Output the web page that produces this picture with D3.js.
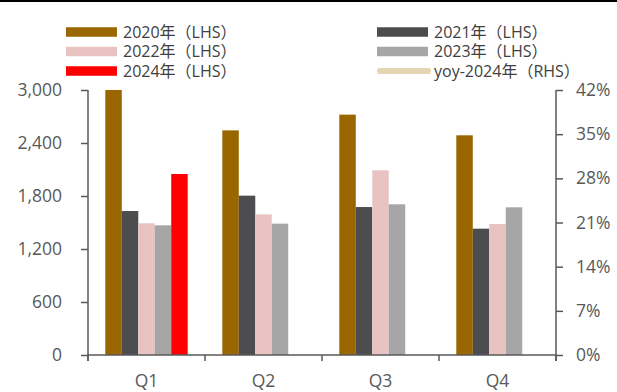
<!DOCTYPE html>
<html>
<head>
<meta charset="utf-8">
<script src="https://cdn.jsdelivr.net/npm/d3@7"></script>
<style>
  html, body { margin: 0; padding: 0; background: #fff; }
  svg { display: block; font-family: "Open Sans", "Noto Sans CJK SC", sans-serif; }
</style>
</head>
<body>
<svg id="chart" width="617" height="392"></svg>
<script>
// Quarterly values (LHS) per year, and 2024 yoy (RHS)
const quarters = ["Q1", "Q2", "Q3", "Q4"];
const v2020 = [3000, 2543, 2721, 2487];
const v2021 = [1630, 1804, 1675, 1430];
const v2022 = [1491, 1592, 2091, 1483];
const v2023 = [1468, 1487, 1706, 1672];
const v2024 = [2049, null, null, null];
const yoy2024 = [0.396, null, null, null];

const leftTicks = [0, 600, 1200, 1800, 2400, 3000];
const rightTicks = [0, 0.07, 0.14, 0.21, 0.28, 0.35, 0.42];

const barSeries = [
  { name: "2020年（LHS）", values: v2020, color: "#996600" },
  { name: "2021年（LHS）", values: v2021, color: "#4d4d4f" },
  { name: "2022年（LHS）", values: v2022, color: "#e9c2c2" },
  { name: "2023年（LHS）", values: v2023, color: "#a6a6a6" },
  { name: "2024年（LHS）", values: v2024, color: "#ff0000" }
];
const lineSeries = { name: "yoy-2024年（RHS）", values: yoy2024, color: "#e6d5b3" };

const svg = d3.select("#chart");
const axisColor = "#595959";
const textColor = "#595959";
const fontStack = "'Open Sans', 'Noto Sans CJK SC', sans-serif";

const plotLeft = 88, plotRight = 556, plotTop = 90, plotBottom = 355;

// Frame rule across the top
svg.append("line")
  .attr("x1", 0).attr("x2", 617).attr("y1", 1).attr("y2", 1)
  .attr("stroke", "#000").attr("stroke-width", 2);

const x = d3.scaleBand().domain(quarters).range([plotLeft, plotRight]).padding(0);
const xi = d3.scaleBand().domain(barSeries.map(s => s.name))
  .range([0, x.bandwidth()]).paddingInner(0).paddingOuter(1.05);
const yL = d3.scaleLinear().domain([0, 3000]).range([plotBottom, plotTop]);
const yR = d3.scaleLinear().domain([0, 0.42]).range([plotBottom, plotTop]);

// Bars
barSeries.forEach(s => {
  svg.append("g").selectAll("rect")
    .data(quarters.map((q, i) => ({ q, v: s.values[i] })).filter(d => d.v != null))
    .join("rect")
    .attr("x", d => x(d.q) + xi(s.name))
    .attr("width", xi.bandwidth())
    .attr("y", d => yL(d.v))
    .attr("height", d => yL(0) - yL(d.v))
    .attr("fill", s.color);
});

// yoy line on the right scale
const line = d3.line()
  .defined(d => d != null)
  .x((d, i) => x(quarters[i]) + x.bandwidth() / 2)
  .y(d => yR(d));
svg.append("path")
  .attr("d", line(lineSeries.values))
  .attr("fill", "none")
  .attr("stroke", lineSeries.color)
  .attr("stroke-width", 3)
  .attr("stroke-linecap", "butt");

function styleAxis(g) {
  g.selectAll("path, line").attr("stroke", axisColor).attr("stroke-width", 1.5);
  g.selectAll("text").attr("fill", textColor).attr("font-size", 17.5)
    .attr("font-family", fontStack);
}

// Left axis
const axL = svg.append("g").attr("transform", `translate(${plotLeft},0)`)
  .call(d3.axisLeft(yL).tickValues(leftTicks).tickFormat(d3.format(",")).tickSize(7).tickSizeOuter(0).tickPadding(19));
axL.select(".domain").attr("d", `M0,${plotTop}V${plotBottom + 6}`);
styleAxis(axL);

// Right axis
const axR = svg.append("g").attr("transform", `translate(${plotRight},0)`)
  .call(d3.axisRight(yR).tickValues(rightTicks).tickFormat(d3.format(".0%")).tickSize(7).tickSizeOuter(0).tickPadding(13));
axR.select(".domain").attr("d", `M0,${plotTop}V${plotBottom + 6}`);
styleAxis(axR);

// Bottom axis: baseline, boundary ticks and quarter labels
const axB = svg.append("g").attr("transform", `translate(0,${plotBottom})`);
axB.append("line").attr("x1", plotLeft).attr("x2", plotRight).attr("y1", 0).attr("y2", 0);
axB.selectAll(".bt").data(quarters.concat(["end"])).join("line")
  .attr("class", "bt")
  .attr("x1", (d, i) => plotLeft + i * x.step()).attr("x2", (d, i) => plotLeft + i * x.step())
  .attr("y1", 0).attr("y2", 6);
axB.selectAll("text").data(quarters).join("text")
  .attr("x", d => x(d) + x.bandwidth() / 2)
  .attr("y", 32)
  .attr("text-anchor", "middle")
  .text(d => d);
styleAxis(axB);

// Legend
const legendItems = [
  { s: barSeries[0], x: 66, y: 32, type: "bar" },
  { s: barSeries[1], x: 377, y: 32, type: "bar" },
  { s: barSeries[2], x: 66, y: 51.5, type: "bar" },
  { s: barSeries[3], x: 377, y: 51.5, type: "bar" },
  { s: barSeries[4], x: 66, y: 71, type: "bar" },
  { s: lineSeries, x: 377, y: 71, type: "line" }
];
const lg = svg.append("g").selectAll("g").data(legendItems).join("g")
  .attr("transform", d => `translate(${d.x},${d.y})`);
lg.filter(d => d.type === "bar").append("rect")
  .attr("x", 0).attr("y", -4.75).attr("width", 51).attr("height", 9.5)
  .attr("fill", d => d.s.color);
lg.filter(d => d.type === "line").append("line")
  .attr("x1", 3).attr("x2", 51).attr("y1", 0).attr("y2", 0)
  .attr("stroke", d => d.s.color).attr("stroke-width", 6).attr("stroke-linecap", "round");
lg.append("text")
  .attr("x", 57).attr("y", 0).attr("dy", "0.36em")
  .attr("font-size", 16).attr("fill", "#404040")
  .attr("font-family", fontStack)
  .text(d => d.s.name);
</script>
</body>
</html>
